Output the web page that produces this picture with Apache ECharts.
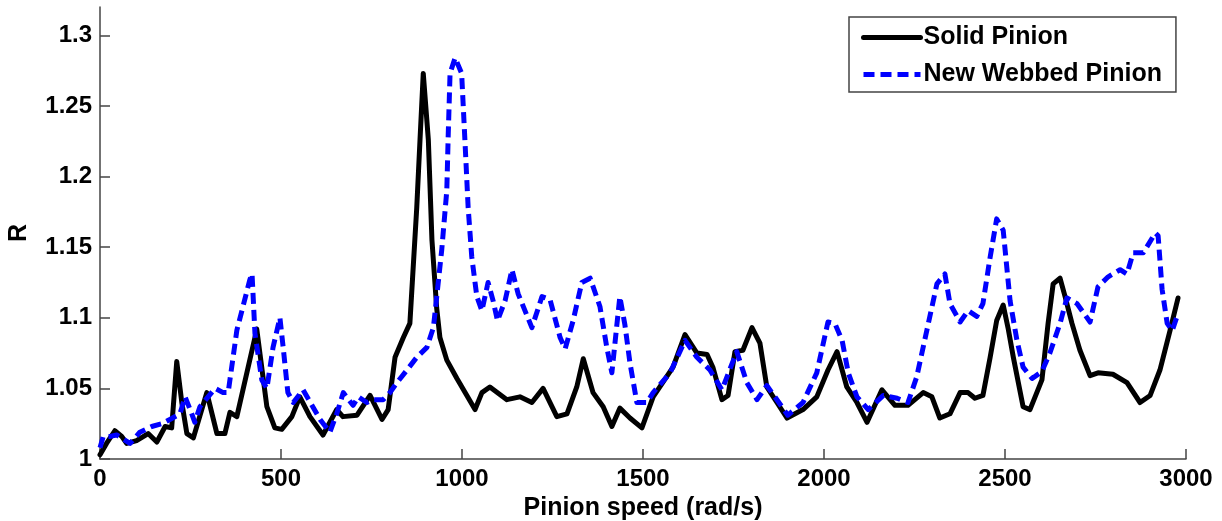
<!DOCTYPE html>
<html>
<head>
<meta charset="utf-8">
<script src="https://cdn.jsdelivr.net/npm/echarts@6/dist/echarts.min.js"></script>
<style>
html,body{margin:0;padding:0;background:#fff;}
#chart{width:1222px;height:521px;}
</style>
</head>
<body>
<div id="chart"></div>
<script>
const seriesNames = ['Solid Pinion', 'New Webbed Pinion'];
const xTicks = [0, 500, 1000, 1500, 2000, 2500, 3000];
const yTicks = [1, 1.05, 1.1, 1.15, 1.2, 1.25, 1.3];

const solidX = [0,18,41,60,74,101,133,157,180,198,212,226,240,258,295,323,345,359,378,428,433,461,483,502,530,552,580,616,654,671,710,746,779,796,815,838,856,875,884,893,907,917,930,939,958,986,1036,1055,1077,1124,1160,1193,1224,1262,1290,1317,1335,1362,1390,1414,1436,1464,1497,1528,1583,1616,1649,1677,1693,1718,1735,1754,1776,1801,1823,1842,1870,1898,1942,1980,2011,2036,2063,2091,2119,2160,2196,2232,2274,2298,2320,2348,2376,2398,2417,2439,2459,2477,2495,2509,2523,2550,2569,2602,2619,2633,2652,2666,2685,2707,2735,2757,2798,2837,2873,2901,2928,2956,2978];
const solidY = [1.003,1.011,1.020,1.016,1.011,1.013,1.018,1.012,1.023,1.022,1.069,1.040,1.018,1.015,1.047,1.018,1.018,1.033,1.030,1.086,1.092,1.037,1.022,1.021,1.030,1.044,1.030,1.017,1.035,1.030,1.031,1.045,1.028,1.035,1.072,1.086,1.096,1.178,1.226,1.273,1.226,1.155,1.107,1.086,1.070,1.057,1.035,1.047,1.051,1.042,1.044,1.040,1.050,1.030,1.032,1.051,1.071,1.047,1.037,1.023,1.036,1.029,1.022,1.044,1.065,1.088,1.075,1.074,1.065,1.042,1.045,1.076,1.077,1.093,1.082,1.051,1.040,1.029,1.035,1.044,1.063,1.076,1.051,1.040,1.026,1.049,1.038,1.038,1.047,1.044,1.029,1.032,1.047,1.047,1.043,1.045,1.072,1.098,1.109,1.092,1.072,1.037,1.035,1.056,1.096,1.124,1.128,1.115,1.096,1.077,1.059,1.061,1.060,1.054,1.040,1.045,1.063,1.091,1.114];

const webX = [0,9,28,46,83,110,143,171,193,221,235,249,262,276,318,340,354,378,414,420,428,447,461,478,497,506,519,534,561,608,635,654,672,699,714,737,755,782,801,820,848,875,903,921,934,944,948,958,962,967,981,999,1008,1017,1027,1041,1055,1072,1086,1098,1119,1138,1155,1193,1221,1243,1271,1285,1307,1331,1354,1381,1400,1414,1436,1450,1464,1483,1511,1528,1575,1616,1649,1685,1718,1759,1787,1815,1842,1870,1900,1942,1980,2011,2030,2050,2067,2091,2122,2164,2202,2232,2256,2284,2312,2334,2348,2376,2398,2422,2439,2459,2477,2495,2514,2533,2550,2575,2602,2624,2652,2671,2699,2735,2757,2785,2818,2837,2854,2882,2915,2923,2934,2948,2962,2978];
const webY = [1.008,1.016,1.016,1.017,1.011,1.019,1.023,1.025,1.028,1.032,1.044,1.035,1.026,1.037,1.050,1.047,1.047,1.091,1.127,1.131,1.089,1.056,1.050,1.079,1.100,1.079,1.047,1.040,1.049,1.028,1.019,1.032,1.047,1.038,1.044,1.040,1.042,1.042,1.047,1.054,1.063,1.072,1.079,1.093,1.124,1.148,1.160,1.190,1.230,1.273,1.284,1.273,1.226,1.178,1.143,1.115,1.105,1.125,1.112,1.098,1.112,1.134,1.117,1.093,1.115,1.113,1.086,1.078,1.098,1.125,1.128,1.108,1.079,1.061,1.115,1.095,1.068,1.040,1.040,1.047,1.061,1.084,1.072,1.063,1.049,1.076,1.054,1.042,1.052,1.042,1.031,1.040,1.061,1.097,1.096,1.084,1.061,1.044,1.035,1.045,1.043,1.040,1.058,1.091,1.124,1.131,1.110,1.097,1.105,1.101,1.110,1.143,1.170,1.162,1.112,1.084,1.065,1.057,1.062,1.075,1.096,1.114,1.110,1.097,1.122,1.129,1.134,1.131,1.146,1.146,1.160,1.158,1.120,1.096,1.091,1.103];

const FONT = '"Liberation Sans", Arial, sans-serif';
const pair = (xs, ys) => xs.map((x, i) => [x, ys[i]]);

const chart = echarts.init(document.getElementById('chart'), null, {renderer: 'canvas'});
chart.setOption({
  animation: false,
  backgroundColor: '#fff',
  grid: {left: 100, right: 36, top: 7, bottom: 62, outerBoundsMode: 'none'},
  legend: {
    orient: 'vertical',
    left: 849, top: 17,
    padding: [8, 14, 5, 12],
    borderColor: '#444', borderWidth: 1.5,
    backgroundColor: '#fff',
    itemWidth: 57, itemHeight: 14, itemGap: 12,
    itemStyle: {opacity: 0},
    lineStyle: {width: 5},
    textStyle: {fontFamily: FONT, fontWeight: 'bold', fontSize: 25, color: '#000', padding: [0,0,0,-2]},
    data: seriesNames
  },
  xAxis: {
    type: 'value', min: 0, max: 3000, interval: 500,
    name: 'Pinion speed (rad/s)', nameLocation: 'middle', nameGap: 32,
    nameTextStyle: {fontFamily: FONT, fontWeight: 'bold', fontSize: 25, color: '#000'},
    axisLine: {show: true, lineStyle: {color: '#444', width: 1.5}},
    axisTick: {show: true, inside: true, length: 10, lineStyle: {color: '#444', width: 1.5}, customValues: xTicks},
    axisLabel: {fontFamily: FONT, fontWeight: 'bold', fontSize: 24, color: '#000', margin: 8, customValues: xTicks,
      formatter: v => String(v)},
    splitLine: {show: false}
  },
  yAxis: {
    type: 'value', min: 1, max: 1.32, interval: 0.05,
    name: 'R', nameLocation: 'middle', nameGap: 68, nameRotate: 90,
    nameTextStyle: {fontFamily: FONT, fontWeight: 'bold', fontSize: 25, color: '#000'},
    axisLine: {show: true, lineStyle: {color: '#444', width: 1.5}},
    axisTick: {show: true, inside: true, length: 10, lineStyle: {color: '#444', width: 1.5}, customValues: yTicks},
    axisLabel: {fontFamily: FONT, fontWeight: 'bold', fontSize: 24, color: '#000', margin: 8, customValues: yTicks,
      formatter: v => String(Math.round(v * 100) / 100)},
    splitLine: {show: false}
  },
  series: [
    {
      name: seriesNames[0], type: 'line', data: pair(solidX, solidY),
      symbol: 'none', smooth: false, color: '#000',
      lineStyle: {color: '#000', width: 5, join: 'round', cap: 'round'}
    },
    {
      name: seriesNames[1], type: 'line', data: pair(webX, webY),
      symbol: 'none', smooth: false, color: '#0000ff',
      lineStyle: {color: '#0000ff', width: 5, type: [11, 6], join: 'round'}
    }
  ]
});
</script>
</body>
</html>
